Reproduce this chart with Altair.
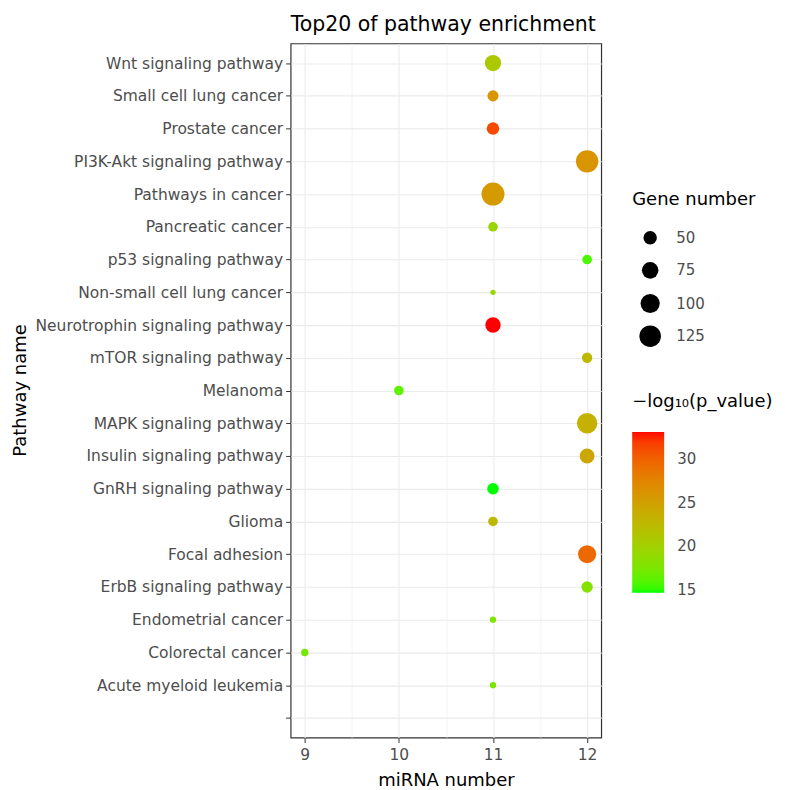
import altair as alt
import pandas as pd

# ---------------- data ----------------
pathways = [
    "Wnt signaling pathway", "Small cell lung cancer", "Prostate cancer",
    "PI3K-Akt signaling pathway", "Pathways in cancer", "Pancreatic cancer",
    "p53 signaling pathway", "Non-small cell lung cancer",
    "Neurotrophin signaling pathway", "mTOR signaling pathway", "Melanoma",
    "MAPK signaling pathway", "Insulin signaling pathway",
    "GnRH signaling pathway", "Glioma", "Focal adhesion",
    "ErbB signaling pathway", "Endometrial cancer", "Colorectal cancer",
    "Acute myeloid leukemia",
]
mirna_number = [11, 11, 11, 12, 11, 11, 12, 11, 11, 12, 10, 12, 12, 11, 11, 12, 12, 11, 9, 11]
gene_number = [73, 35, 44, 135, 143, 27, 27, 10, 65, 31, 27, 113, 61, 38, 27, 89, 37, 13, 17, 13]
neg_log10_p = [20.9, 25.9, 31.3, 26.0, 25.6, 19.4, 15.6, 19.3, 33.15, 22.6, 16.2, 23.4,
               24.3, 14.65, 22.5, 29.6, 18.1, 17.6, 17.3, 17.6]

y_order = pathways + [""]          # empty category at the bottom, as in the reference
x_grid_values = [9, 9.5, 10, 10.5, 11, 11.5, 12]
size_legend_values = [50, 75, 100, 125]
color_legend_values = [15, 20, 25, 30]

df = pd.DataFrame({
    "Pathway": pathways,
    "miRNA": mirna_number,
    "Genes": gene_number,
    "logp": neg_log10_p,
})

FONT = "DejaVu Sans"
LABEL_COLOR = "#4D4D4D"
GRID_COLOR = "#EBEBEB"
DARK = "#333333"

x_axis = alt.Axis(
    values=x_grid_values,
    title="miRNA number",
    labelExpr="datum.value % 1 == 0 ? format(datum.value, 'd') : ''",
    tickOpacity={"condition": {"test": "datum.value % 1 != 0", "value": 0}, "value": 1},
    gridWidth={"condition": {"test": "datum.value % 1 != 0", "value": 0.6}, "value": 1.1},
    grid=True,
    gridColor=GRID_COLOR,
    tickSize=5,
    tickColor=DARK,
    labelPadding=5,
    titlePadding=9,
    domain=False,
)

y_axis = alt.Axis(
    title="Pathway name",
    grid=True,
    gridColor=GRID_COLOR,
    gridWidth=1.1,
    tickSize=5,
    tickColor=DARK,
    labelPadding=3,
    labelLimit=400,
    titleX=-261,
    titleY=347,
    titleAngle=270,
    titleBaseline="bottom",
    titleAlign="center",
    domain=False,
)

chart = alt.Chart(df).mark_circle(opacity=1).encode(
    x=alt.X("miRNA:Q",
            scale=alt.Scale(domain=[8.85, 12.15], nice=False, zero=False),
            axis=x_axis),
    y=alt.Y("Pathway:N",
            sort=y_order,
            scale=alt.Scale(type="point", domain=y_order, padding=0.6),
            axis=y_axis),
    size=alt.Size("Genes:Q",
                  scale=alt.Scale(domain=[10, 143], range=[28.3, 531], zero=False),
                  legend=alt.Legend(
                      title="Gene number",
                      values=size_legend_values,
                      orient="none", legendX=342, legendY=148,
                      symbolFillColor="black", symbolStrokeColor="black",
                      symbolStrokeWidth=0, symbolOpacity=1,
                      symbolOffset=7, labelOffset=15, rowPadding=9.7,
                      gridAlign="all",
                      titlePadding=21, padding=0,
                  )),
    color=alt.Color("logp:Q",
                    scale=alt.Scale(domain=[14.65, 33.15],
                                    range=["#00FF00", "#FF0000"],
                                    interpolate="lab"),
                    legend=alt.Legend(
                        title="\u2212log\u2081\u2080(p_value)",
                        values=color_legend_values,
                        orient="none", legendX=342, legendY=350,
                        gradientLength=161, gradientThickness=32,
                        gradientStrokeWidth=0,
                        labelOffset=13, titlePadding=21, padding=0,
                        direction="vertical",
                    )),
    order=alt.Order("Genes:Q", sort="descending"),
).properties(
    width=311,
    height=695,
    background="white",
    title=alt.TitleParams("Top20 of pathway enrichment", anchor="start",
                          frame="group", fontSize=20.5, font=FONT,
                          fontWeight="normal", color="black", offset=8),
    autosize=alt.AutoSizeParams(type="none"),
    padding={"left": 283, "top": 35, "right": 176, "bottom": 52},
).configure_view(
    stroke=DARK, strokeWidth=1.2, fill="white",
).configure_axis(
    labelFont=FONT, labelFontSize=15.5, labelColor=LABEL_COLOR,
    titleFont=FONT, titleFontSize=18, titleColor="black", titleFontWeight="normal",
).configure_legend(
    labelFont=FONT, labelFontSize=15, labelColor=LABEL_COLOR,
    titleFont=FONT, titleFontSize=18, titleColor="black", titleFontWeight="normal",
    titleLimit=300,
)

chart.save("out.html", embed_options={"renderer": "svg", "actions": False})
